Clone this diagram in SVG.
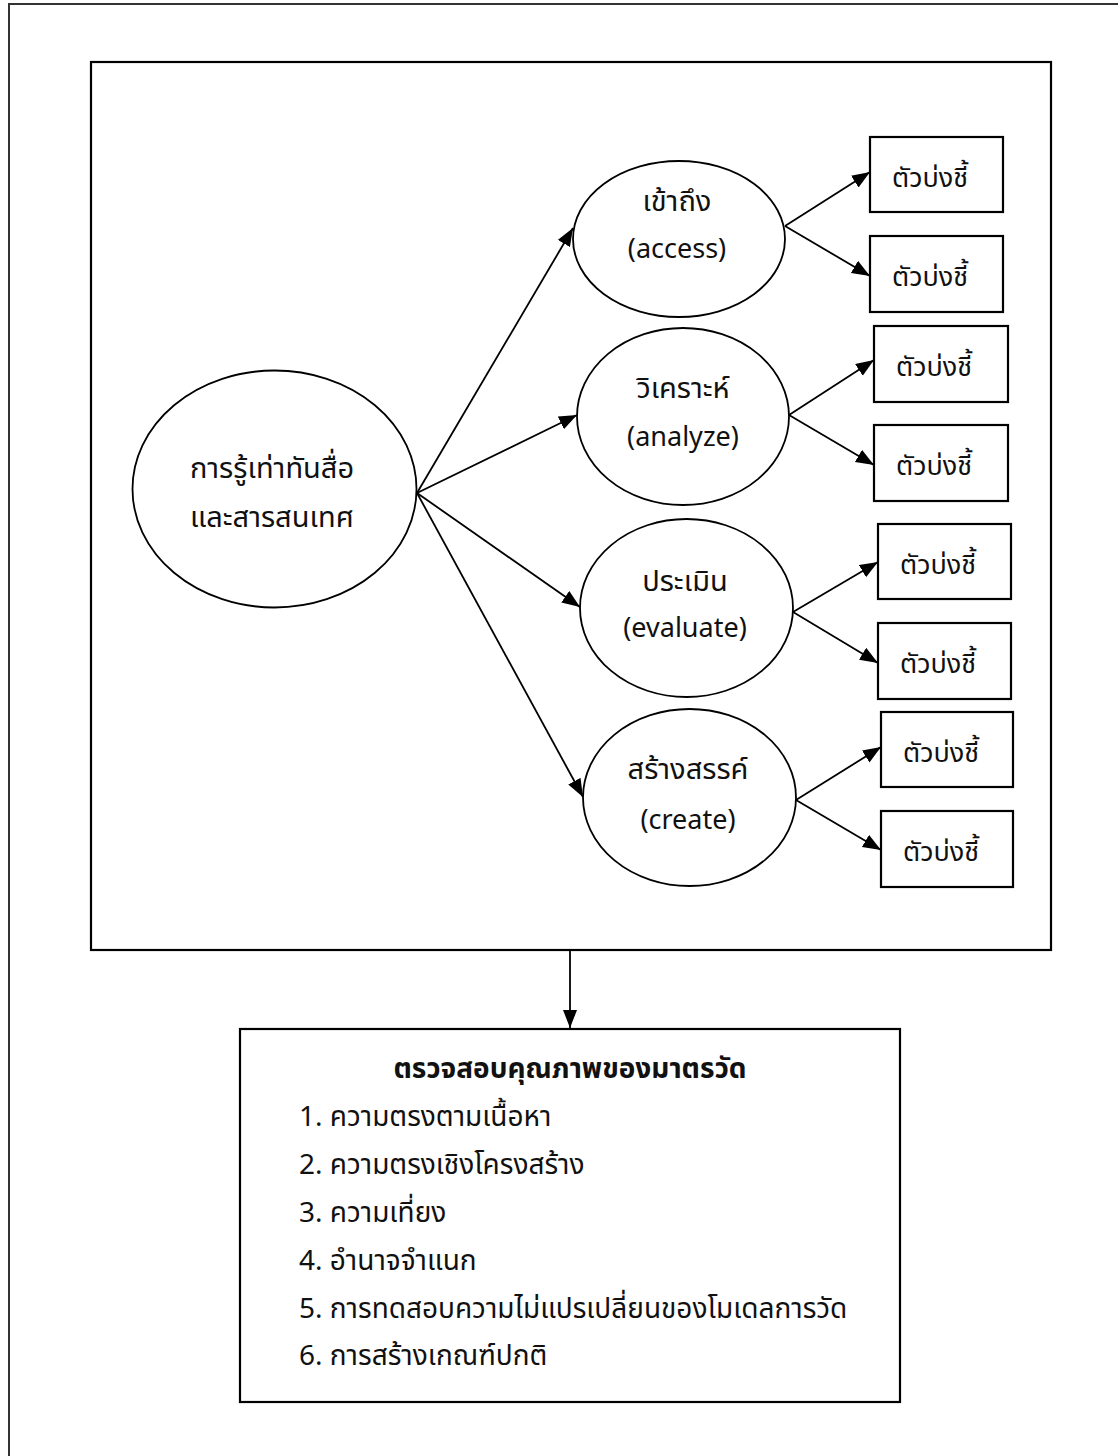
<svg xmlns="http://www.w3.org/2000/svg" width="1118" height="1456" viewBox="0 0 1118 1456">
<defs>
<style>
.t{font-family:"Noto Sans Thai","Noto Sans","Liberation Sans",sans-serif;font-size:29px;fill:#111;}
.l{font-size:27px;}
.c{text-anchor:middle;}
.b{font-weight:bold;font-size:28px;}
.i{font-size:28px;}
.node{fill:#fff;stroke:#000;stroke-width:2.2;}
.ell{fill:#fff;stroke:#000;stroke-width:1.8;}
.edge{stroke:#000;stroke-width:1.8;fill:none;marker-end:url(#ah);}
</style>
<marker id="ah" markerUnits="userSpaceOnUse" markerWidth="19" markerHeight="15" refX="18" refY="7" orient="auto">
<path d="M0,0 L18,7 L0,14 z" fill="#000"/>
</marker>
</defs>
<rect x="0" y="0" width="1118" height="1456" fill="#fff"/>
<path d="M9,1460 V4 H1122" fill="none" stroke="#333" stroke-width="2"/>
<rect id="frame" x="91" y="62" width="960" height="888" fill="none" stroke="#000" stroke-width="2.2"/>

<g id="connectors">
<line class="edge" x1="417" y1="493" x2="573" y2="228"/>
<line class="edge" x1="417" y1="493" x2="577" y2="415"/>
<line class="edge" x1="417" y1="493" x2="580" y2="607"/>
<line class="edge" x1="417" y1="493" x2="583" y2="797"/>
<line class="edge" x1="785" y1="226" x2="870" y2="172"/>
<line class="edge" x1="785" y1="226" x2="870" y2="276"/>
<line class="edge" x1="789" y1="415" x2="874" y2="360"/>
<line class="edge" x1="789" y1="415" x2="874" y2="465"/>
<line class="edge" x1="793" y1="612" x2="878" y2="562"/>
<line class="edge" x1="793" y1="612" x2="878" y2="663"/>
<line class="edge" x1="796" y1="800" x2="881" y2="747"/>
<line class="edge" x1="796" y1="800" x2="881" y2="850"/>
<line class="edge" x1="570" y1="950" x2="570" y2="1028"/>
</g>

<g id="main">
<ellipse class="ell" cx="274.5" cy="489" rx="142" ry="118.5"/>
<text class="t c" x="272" y="478">การรู้เท่าทันสื่อ</text>
<text class="t c" x="272" y="527">และสารสนเทศ</text>
</g>

<g id="access">
<ellipse class="ell" cx="679" cy="239" rx="106" ry="78"/>
<text class="t c" x="677" y="211">เข้าถึง</text>
<text class="t l c" x="677" y="258">(access)</text>
</g>
<g id="analyze">
<ellipse class="ell" cx="683" cy="416.5" rx="106" ry="88.5"/>
<text class="t c" x="683" y="398">วิเคราะห์</text>
<text class="t l c" x="683" y="446">(analyze)</text>
</g>
<g id="evaluate">
<ellipse class="ell" cx="686.5" cy="608" rx="106.5" ry="89"/>
<text class="t c" x="685" y="591">ประเมิน</text>
<text class="t l c" x="685" y="637">(evaluate)</text>
</g>
<g id="create">
<ellipse class="ell" cx="689.5" cy="797.5" rx="106.5" ry="88.5"/>
<text class="t c" x="688" y="779">สร้างสรรค์</text>
<text class="t l c" x="688" y="829">(create)</text>
</g>

<g id="ind1"><rect class="node" x="870" y="137" width="133" height="75"/><text class="t l" x="892" y="187">ตัวบ่งชี้</text></g>
<g id="ind2"><rect class="node" x="870" y="236" width="133" height="76"/><text class="t l" x="892" y="286">ตัวบ่งชี้</text></g>
<g id="ind3"><rect class="node" x="874" y="326" width="134" height="76"/><text class="t l" x="896" y="376">ตัวบ่งชี้</text></g>
<g id="ind4"><rect class="node" x="874" y="425" width="134" height="76"/><text class="t l" x="896" y="475">ตัวบ่งชี้</text></g>
<g id="ind5"><rect class="node" x="878" y="524" width="133" height="75"/><text class="t l" x="900" y="574">ตัวบ่งชี้</text></g>
<g id="ind6"><rect class="node" x="878" y="623" width="133" height="76"/><text class="t l" x="900" y="673">ตัวบ่งชี้</text></g>
<g id="ind7"><rect class="node" x="881" y="712" width="132" height="75"/><text class="t l" x="903" y="762">ตัวบ่งชี้</text></g>
<g id="ind8"><rect class="node" x="881" y="811" width="132" height="76"/><text class="t l" x="903" y="861">ตัวบ่งชี้</text></g>

<g id="quality">
<rect class="node" x="240" y="1029" width="660" height="373"/>
<text class="t c b" x="570" y="1078">ตรวจสอบคุณภาพของมาตรวัด</text>
<text class="t i" x="299" y="1126">1. ความตรงตามเนื้อหา</text>
<text class="t i" x="299" y="1174">2. ความตรงเชิงโครงสร้าง</text>
<text class="t i" x="299" y="1222">3. ความเที่ยง</text>
<text class="t i" x="299" y="1270">4. อำนาจจำแนก</text>
<text class="t i" x="299" y="1318">5. การทดสอบความไม่แปรเปลี่ยนของโมเดลการวัด</text>
<text class="t i" x="299" y="1365">6. การสร้างเกณฑ์ปกติ</text>
</g>
</svg>
